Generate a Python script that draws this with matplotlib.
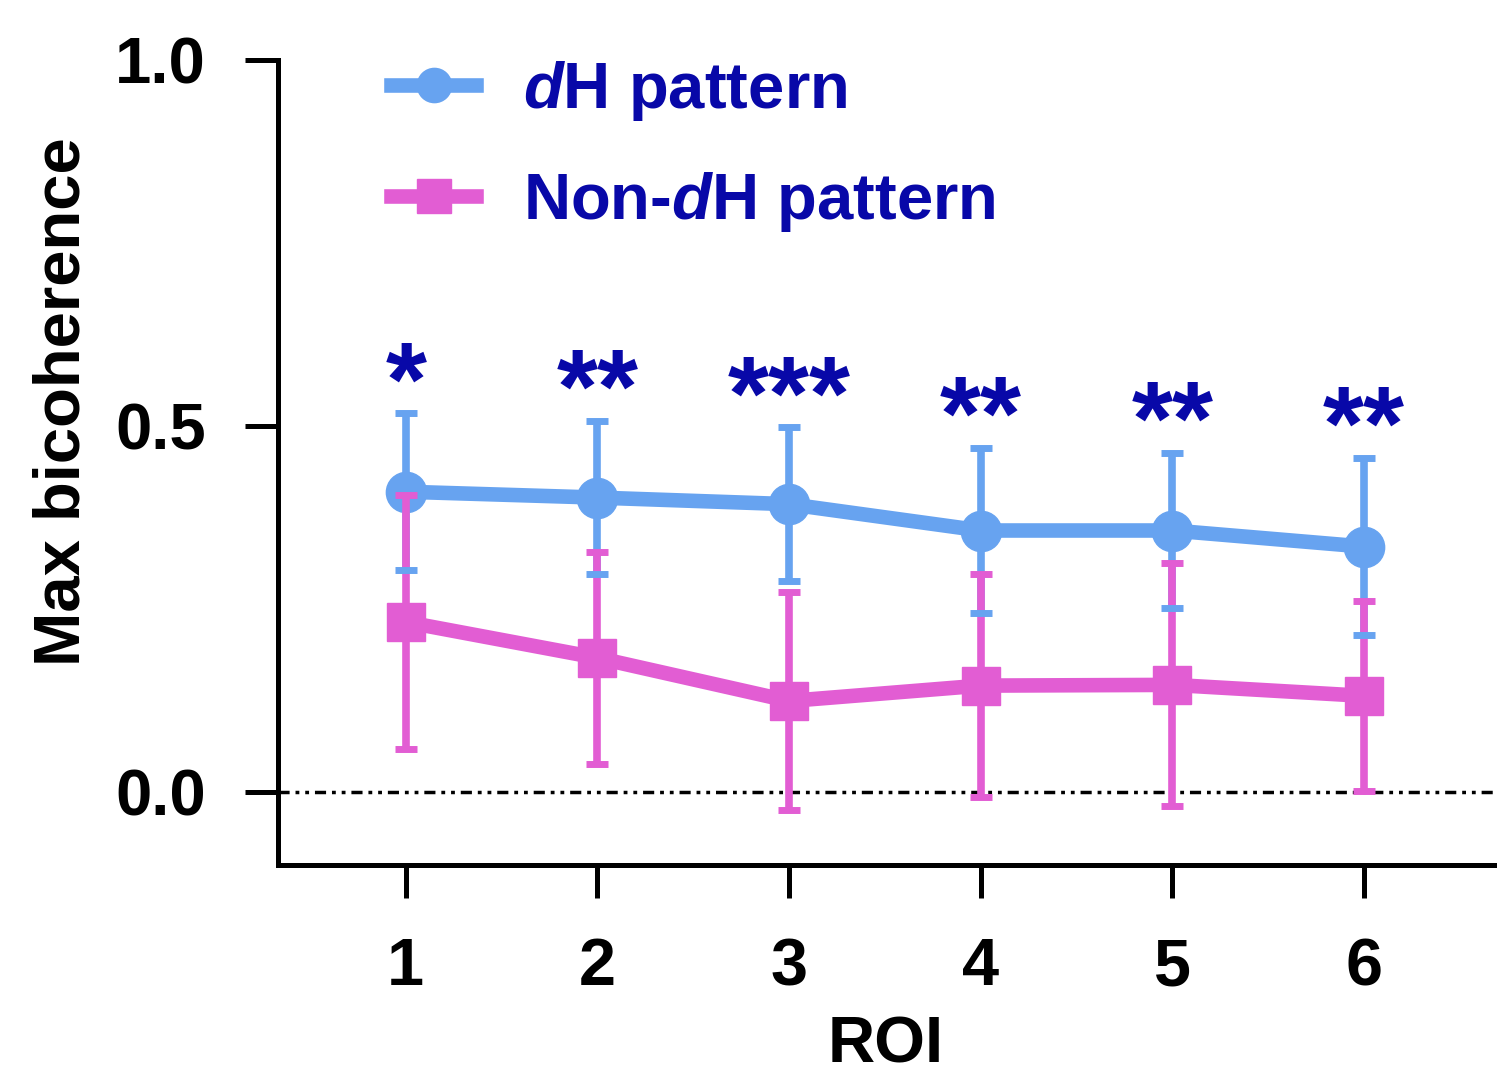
import matplotlib
matplotlib.use("Agg")
import matplotlib.pyplot as plt
import numpy as np

# ---- data ----
roi = [1, 2, 3, 4, 5, 6]
roi_labels = ["1", "2", "3", "4", "5", "6"]
dh_mean = [0.410, 0.402, 0.393, 0.357, 0.357, 0.335]
dh_sd = [0.107, 0.105, 0.105, 0.113, 0.106, 0.121]
non_mean = [0.232, 0.183, 0.124, 0.145, 0.146, 0.131]
non_sd = [0.174, 0.145, 0.149, 0.152, 0.166, 0.130]
sig_labels = ["*", "**", "***", "**", "**", "**"]
series_labels = [r"$d$H pattern", r"Non-$d$H pattern"]
yticks = [0.0, 0.5, 1.0]
ytick_labels = ["0.0", "0.5", "1.0"]

BLUE = "#67A3F0"
PINK = "#E25DD3"
NAVY = "#0808A8"

plt.rcParams["font.family"] = ["Liberation Sans", "DejaVu Sans"]
plt.rcParams["font.weight"] = "bold"
plt.rcParams["mathtext.fontset"] = "custom"
plt.rcParams["mathtext.it"] = "Liberation Sans:bold:italic"
plt.rcParams["mathtext.rm"] = "Liberation Sans:bold"

fig = plt.figure(figsize=(15.02, 10.92), dpi=100)
ax = fig.add_axes([0.185, 0.208, 0.810, 0.737])

# zero line
ax.axhline(0, color="black", lw=2.5, linestyle=(0, (3.2, 1.7, 1.1, 1.7, 1.1, 1.7)), zorder=1)

# dH series
l1, caps1, bars1 = ax.errorbar(roi, dh_mean, yerr=dh_sd, color=BLUE, lw=10.5, marker="o",
                               markersize=29, elinewidth=5.5, capsize=8, capthick=5,
                               zorder=2)
for c in caps1:
    c.set_zorder(4)
# non-dH series
l2, caps2, bars2 = ax.errorbar(roi, non_mean, yerr=non_sd, color=PINK, lw=10.5, marker="s",
                               markersize=28, elinewidth=5.5, capsize=8, capthick=5,
                               zorder=3)
for c in caps2:
    c.set_zorder(4)

# significance stars
for x, m, s, lab in zip(roi, dh_mean, dh_sd, sig_labels):
    ax.text(x, m + s + 0.035, lab, color=NAVY, fontsize=76, fontweight="bold",
            ha="center", va="center")

ax.set_xlim(0.333, 6.68)
ax.set_ylim(-0.1, 1.0)
ax.set_yticks(yticks)
ax.set_yticklabels(ytick_labels)
ax.set_xticks(roi)
ax.set_xticklabels(roi_labels)

for side in ["top", "right"]:
    ax.spines[side].set_visible(False)
for side in ["left", "bottom"]:
    ax.spines[side].set_linewidth(3.6)

ax.tick_params(axis="both", length=24, width=3.6, direction="out")
ax.tick_params(axis="y", labelsize=47, pad=28)
ax.tick_params(axis="x", labelsize=48, pad=28)
for t in ax.get_xticklabels() + ax.get_yticklabels():
    t.set_fontweight("bold")

ax.set_ylabel("Max bicoherence", fontsize=47, fontweight="bold")
ax.yaxis.set_label_coords(-0.152, 0.575)
ax.set_xlabel("ROI", fontsize=47, fontweight="bold", labelpad=12)

leg = ax.legend(handles=[l1, l2], labels=series_labels, loc="upper left",
                bbox_to_anchor=(0.045, 1.074), frameon=False, fontsize=47,
                handlelength=1.3, handletextpad=0.72, labelspacing=0.71,
                markerscale=0.85)
for t in leg.get_texts():
    t.set_color(NAVY)
    t.set_fontweight("bold")

fig.savefig("out.png", dpi=100)
